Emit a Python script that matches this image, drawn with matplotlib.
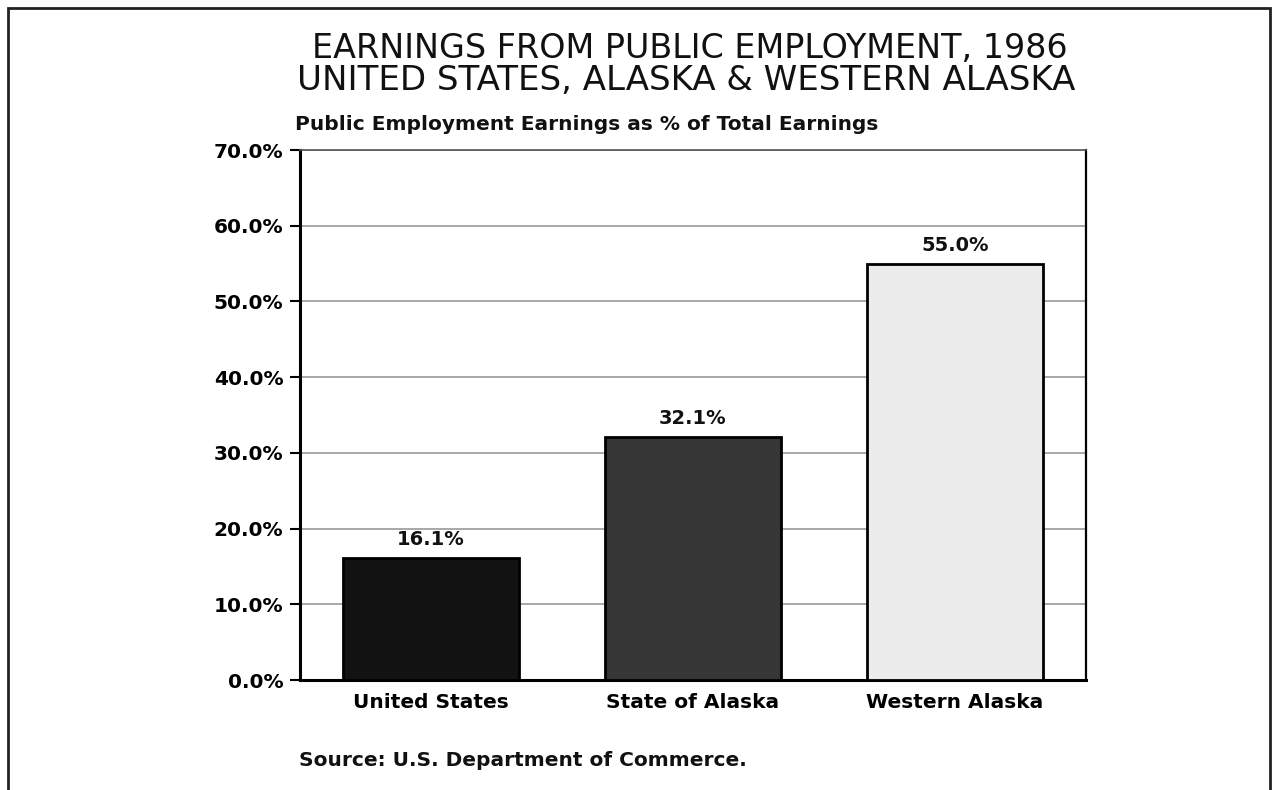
import matplotlib.pyplot as plt
from matplotlib.patches import Rectangle

# Data
regions = ['United States', 'State of Alaska', 'Western Alaska']
public_share = [16.1, 32.1, 55.0]
bar_colors = ['#121212', '#363636', '#ececec']
y_ticks = [0, 10, 20, 30, 40, 50, 60, 70]

plt.rcParams['font.family'] = ['DejaVu Sans']

fig = plt.figure(figsize=(12.76, 7.9), dpi=100)
fig.patch.set_facecolor('white')

# Outer frame of the page
fig.add_artist(Rectangle((0.0063, -0.01), 0.9889, 1.0, transform=fig.transFigure,
                         fill=False, edgecolor='#222222', linewidth=2))

ax = fig.add_axes([0.2351, 0.1392, 0.6160, 0.6709])

x = list(range(len(regions)))
ax.bar(x, public_share, width=0.67, color=bar_colors, edgecolor='black',
       linewidth=2, zorder=3)

for xi, val in zip(x, public_share):
    ax.text(xi, val + 1.2, f'{val:.1f}%', ha='center', va='bottom',
            fontsize=14, fontweight='bold', color='#111111')

ax.set_xlim(-0.5, 2.5)
ax.set_ylim(0, 70)
ax.set_yticks(y_ticks)
ax.set_yticklabels([f'{t:.1f}%' for t in y_ticks], fontsize=14.5, fontweight='bold')
ax.set_xticks(x)
ax.set_xticklabels(regions, fontsize=14.5, fontweight='bold')
ax.tick_params(axis='x', length=0, pad=9)
ax.tick_params(axis='y', length=7, width=1.5, direction='out', pad=5)

ax.yaxis.grid(True, color='#9a9a9a', linewidth=1.2, zorder=0)
ax.set_axisbelow(True)

ax.spines['left'].set_linewidth(2.2)
ax.spines['bottom'].set_linewidth(2.2)
ax.spines['right'].set_linewidth(1.6)
ax.spines['top'].set_linewidth(1.2)
ax.spines['top'].set_color('#555555')

# Titles
fig.text(0.5408, 0.939, 'EARNINGS FROM PUBLIC EMPLOYMENT, 1986', ha='center', va='center',
         fontsize=24, color='#111111')
fig.text(0.5376, 0.898, 'UNITED STATES, ALASKA & WESTERN ALASKA', ha='center', va='center',
         fontsize=24.5, color='#111111')
fig.text(0.231, 0.843, 'Public Employment Earnings as % of Total Earnings', ha='left', va='center',
         fontsize=14.5, fontweight='bold', color='#111111')

fig.text(0.234, 0.037, 'Source: U.S. Department of Commerce.', ha='left', va='center',
         fontsize=14.5, fontweight='bold', color='#111111')

fig.savefig('out.png', dpi=100, facecolor='white')
